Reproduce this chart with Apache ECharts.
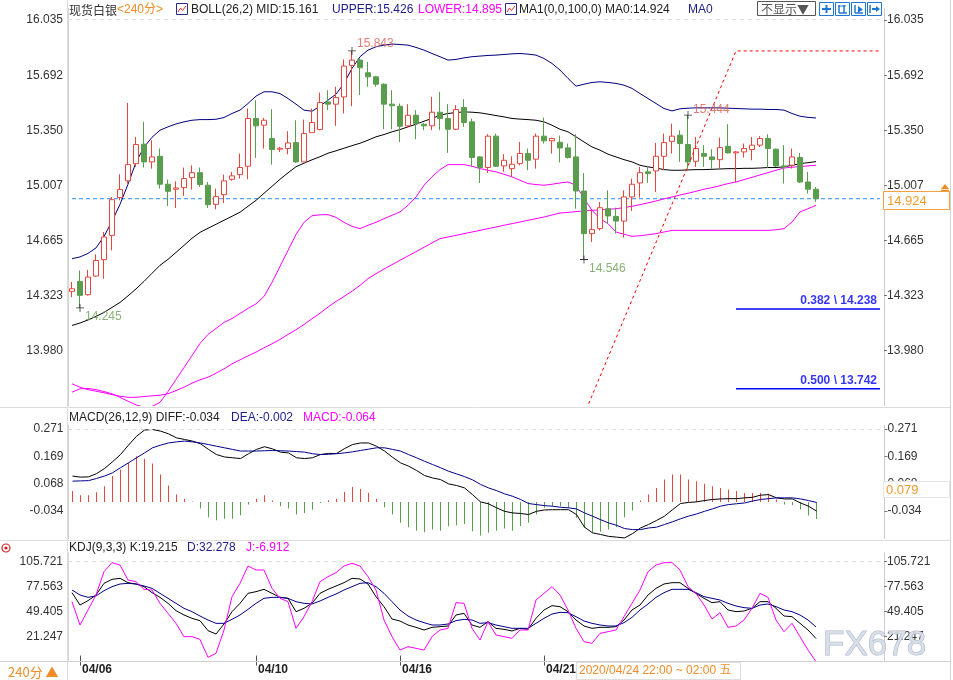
<!DOCTYPE html>
<html><head><meta charset="utf-8">
<script src="https://cdn.jsdelivr.net/npm/echarts@6/dist/echarts.min.js"></script>
<style>html,body{margin:0;padding:0;background:#fff;}#c{width:953px;height:680px;}</style>
</head><body><div id="c"></div>
<script>
// ---------- data ----------
const opens=[14.348,14.410,14.327,14.443,14.545,14.696,14.931,15.035,15.142,15.263,15.153,15.188,15.014,14.983,14.993,15.055,15.086,15.008,14.889,14.949,15.045,15.074,15.126,15.423,15.381,15.298,15.232,15.236,15.273,15.153,15.335,15.354,15.526,15.512,15.557,15.753,15.786,15.707,15.682,15.636,15.512,15.499,15.377,15.443,15.387,15.377,15.462,15.423,15.356,15.491,15.402,15.184,15.118,15.313,15.128,15.111,15.142,15.205,15.170,15.313,15.284,15.275,15.240,15.184,14.972,14.707,14.738,14.862,14.814,14.785,14.935,15.022,15.091,15.097,15.188,15.281,15.319,15.261,15.157,15.205,15.184,15.167,15.250,15.209,15.215,15.230,15.257,15.298,15.232,15.128,15.132,15.180,15.028,14.983];
const closes=[14.364,14.323,14.437,14.540,14.686,14.918,14.981,15.136,15.261,15.153,15.184,15.014,14.970,14.991,15.049,15.086,15.012,14.887,14.937,15.035,15.066,15.118,15.423,15.377,15.412,15.230,15.238,15.271,15.153,15.329,15.398,15.522,15.512,15.553,15.749,15.786,15.738,15.682,15.636,15.512,15.502,15.375,15.443,15.392,15.377,15.462,15.423,15.356,15.479,15.398,15.180,15.118,15.313,15.126,15.163,15.138,15.205,15.163,15.313,15.284,15.298,15.240,15.180,14.972,14.707,14.732,14.868,14.817,14.785,14.935,15.014,15.086,15.080,15.188,15.273,15.313,15.267,15.153,15.236,15.188,15.167,15.242,15.209,15.215,15.236,15.257,15.298,15.236,15.128,15.122,15.184,15.028,14.983,14.924];
const lows=[14.312,14.245,14.322,14.437,14.426,14.603,14.914,15.018,15.122,15.118,15.111,14.987,14.879,14.866,14.941,14.981,14.997,14.866,14.858,14.898,15.035,15.049,15.045,15.178,15.236,15.136,15.215,15.200,15.147,15.153,15.335,15.350,15.475,15.377,15.454,15.499,15.568,15.620,15.620,15.356,15.356,15.277,15.364,15.294,15.350,15.350,15.350,15.209,15.350,15.371,15.122,15.022,15.084,15.122,15.091,15.064,15.132,15.101,15.111,15.267,15.205,15.149,15.174,14.862,14.546,14.655,14.727,14.769,14.707,14.682,14.848,14.931,15.022,14.966,15.101,15.205,15.153,15.111,15.122,15.122,15.111,15.111,15.205,15.028,15.180,15.163,15.246,15.116,15.122,15.018,15.111,15.022,14.956,14.904];
const highs=[14.406,14.478,14.482,14.578,14.717,14.935,15.076,15.520,15.308,15.402,15.288,15.236,15.043,15.032,15.118,15.132,15.118,15.028,14.987,15.074,15.091,15.205,15.485,15.537,15.427,15.481,15.246,15.344,15.412,15.416,15.485,15.584,15.599,15.620,15.790,15.843,15.796,15.775,15.688,15.641,15.599,15.516,15.512,15.475,15.396,15.558,15.589,15.512,15.506,15.543,15.423,15.188,15.325,15.329,15.201,15.188,15.277,15.236,15.329,15.429,15.304,15.317,15.267,15.325,15.084,14.852,14.904,14.976,14.868,14.976,15.049,15.122,15.126,15.271,15.329,15.391,15.350,15.444,15.308,15.257,15.232,15.304,15.387,15.221,15.267,15.308,15.313,15.325,15.236,15.257,15.236,15.209,15.091,14.997];
const bollUpper=[14.551,14.562,14.584,14.618,14.690,14.783,14.889,15.014,15.151,15.244,15.306,15.350,15.371,15.389,15.402,15.412,15.416,15.416,15.418,15.429,15.454,15.475,15.516,15.562,15.589,15.589,15.578,15.547,15.512,15.475,15.468,15.500,15.537,15.574,15.641,15.734,15.807,15.848,15.869,15.879,15.886,15.883,15.879,15.865,15.848,15.827,15.807,15.786,15.790,15.800,15.807,15.811,15.815,15.817,15.821,15.825,15.827,15.823,15.817,15.796,15.765,15.724,15.672,15.624,15.636,15.647,15.651,15.647,15.641,15.630,15.610,15.578,15.547,15.516,15.485,15.470,15.483,15.487,15.489,15.489,15.489,15.489,15.487,15.485,15.483,15.481,15.481,15.479,15.479,15.475,15.454,15.437,15.430,15.426];
const bollMid=[14.136,14.151,14.170,14.192,14.217,14.248,14.279,14.320,14.363,14.410,14.460,14.510,14.547,14.590,14.634,14.678,14.715,14.740,14.765,14.790,14.815,14.840,14.877,14.914,14.958,15.001,15.045,15.085,15.123,15.145,15.166,15.185,15.207,15.222,15.238,15.254,15.269,15.288,15.309,15.323,15.340,15.354,15.371,15.387,15.406,15.423,15.443,15.454,15.460,15.464,15.462,15.458,15.450,15.441,15.433,15.423,15.419,15.416,15.412,15.402,15.381,15.356,15.340,15.309,15.277,15.246,15.226,15.201,15.184,15.167,15.153,15.132,15.122,15.115,15.105,15.101,15.101,15.103,15.105,15.105,15.107,15.109,15.111,15.111,15.113,15.113,15.115,15.118,15.118,15.122,15.132,15.142,15.148,15.155];
const bollLower=[13.721,13.742,13.744,13.737,13.725,13.711,13.689,13.665,13.642,13.627,13.632,13.658,13.725,13.800,13.874,13.949,14.024,14.080,14.117,14.155,14.179,14.211,14.242,14.270,14.316,14.404,14.503,14.603,14.702,14.777,14.818,14.824,14.825,14.808,14.777,14.752,14.738,14.759,14.777,14.800,14.821,14.842,14.883,14.935,15.008,15.060,15.105,15.136,15.136,15.136,15.126,15.111,15.101,15.091,15.076,15.060,15.039,15.018,15.012,15.008,15.014,15.022,15.028,15.008,14.925,14.852,14.800,14.769,14.717,14.703,14.690,14.694,14.700,14.707,14.717,14.727,14.727,14.727,14.727,14.727,14.727,14.727,14.727,14.727,14.727,14.727,14.727,14.727,14.731,14.738,14.779,14.842,14.862,14.883];
const maLong=[13.773,13.752,13.737,13.727,13.717,13.706,13.696,13.689,13.689,13.694,13.698,13.702,13.711,13.731,13.752,13.777,13.798,13.814,13.839,13.866,13.897,13.922,13.947,13.970,13.997,14.022,14.049,14.080,14.109,14.142,14.178,14.212,14.250,14.285,14.316,14.349,14.385,14.427,14.458,14.487,14.514,14.541,14.568,14.595,14.622,14.649,14.676,14.686,14.696,14.707,14.717,14.727,14.738,14.748,14.759,14.769,14.779,14.790,14.800,14.810,14.823,14.835,14.839,14.844,14.848,14.852,14.854,14.858,14.862,14.869,14.877,14.887,14.898,14.910,14.923,14.935,14.947,14.958,14.970,14.983,14.993,15.005,15.018,15.028,15.043,15.057,15.072,15.086,15.101,15.115,15.120,15.124,15.128,15.132];
const macdHist=[0.040,0.025,0.025,0.036,0.058,0.096,0.120,0.145,0.170,0.160,0.143,0.102,0.061,0.027,0.012,0.001,-0.025,-0.057,-0.068,-0.063,-0.063,-0.050,-0.010,0.012,0.025,0.005,-0.016,-0.025,-0.047,-0.041,-0.029,-0.004,0.006,0.012,0.037,0.055,0.048,0.034,0.012,-0.020,-0.047,-0.078,-0.094,-0.107,-0.113,-0.103,-0.107,-0.091,-0.087,-0.082,-0.109,-0.125,-0.115,-0.107,-0.099,-0.107,-0.090,-0.078,-0.047,-0.022,-0.016,-0.016,-0.022,-0.059,-0.097,-0.115,-0.111,-0.103,-0.094,-0.057,-0.032,0.005,0.027,0.052,0.083,0.102,0.102,0.083,0.077,0.067,0.058,0.052,0.046,0.040,0.033,0.033,0.033,0.030,0.009,-0.010,-0.012,-0.028,-0.051,-0.064];
const macdDiff=[0.096,0.092,0.093,0.105,0.124,0.149,0.176,0.211,0.244,0.267,0.269,0.263,0.253,0.238,0.232,0.226,0.216,0.195,0.176,0.167,0.164,0.161,0.179,0.195,0.205,0.197,0.185,0.182,0.164,0.161,0.164,0.176,0.180,0.180,0.198,0.213,0.219,0.219,0.207,0.189,0.166,0.145,0.133,0.117,0.098,0.089,0.083,0.067,0.061,0.052,0.027,0.000,-0.007,-0.022,-0.035,-0.041,-0.043,-0.047,-0.035,-0.030,-0.029,-0.029,-0.029,-0.047,-0.094,-0.115,-0.121,-0.128,-0.131,-0.134,-0.118,-0.097,-0.084,-0.069,-0.053,-0.029,-0.006,-0.002,0.000,0.005,0.009,0.011,0.012,0.012,0.015,0.017,0.025,0.027,0.015,0.011,0.011,-0.004,-0.016,-0.034];
const macdDea=[0.077,0.078,0.079,0.087,0.096,0.108,0.127,0.145,0.164,0.182,0.201,0.211,0.219,0.223,0.226,0.223,0.219,0.213,0.207,0.201,0.195,0.189,0.189,0.189,0.190,0.191,0.190,0.189,0.187,0.185,0.179,0.176,0.177,0.179,0.182,0.186,0.191,0.196,0.201,0.201,0.195,0.189,0.176,0.164,0.151,0.139,0.127,0.114,0.104,0.094,0.082,0.065,0.052,0.042,0.030,0.021,0.009,-0.006,-0.010,-0.014,-0.016,-0.020,-0.022,-0.026,-0.041,-0.053,-0.066,-0.078,-0.087,-0.099,-0.103,-0.103,-0.097,-0.094,-0.084,-0.074,-0.063,-0.053,-0.045,-0.035,-0.026,-0.016,-0.010,-0.007,-0.004,0.003,0.009,0.012,0.015,0.015,0.015,0.011,0.005,-0.002];
const kdjK=[70.84,56.95,61.83,68.21,81.35,85.86,86.98,82.10,80.60,77.60,70.84,65.58,58.83,50.57,45.69,41.93,39.30,28.04,24.29,35.55,49.44,58.83,70.09,71.97,74.59,70.09,65.58,64.46,49.44,53.19,58.83,70.09,74.59,78.35,82.10,86.98,86.23,80.60,66.34,55.07,41.18,38.93,34.42,31.79,28.79,31.79,32.55,33.30,45.69,47.56,34.42,31.79,38.18,30.67,29.54,27.66,30.67,29.54,41.93,51.32,56.20,55.07,49.44,40.05,33.30,30.67,31.79,31.79,32.55,40.05,51.32,56.95,68.21,75.72,80.60,82.10,82.10,75.72,70.09,64.46,59.58,60.70,51.32,49.44,50.19,53.19,60.70,60.70,53.19,44.56,43.81,36.30,28.79,19.22];
const kdjD=[73.84,68.21,65.58,67.09,73.09,77.60,80.60,81.35,80.60,78.35,75.72,70.09,64.46,58.83,53.19,49.44,44.56,40.05,36.30,36.30,40.81,45.69,52.07,58.83,64.46,65.58,65.58,64.46,60.70,58.83,58.08,61.45,65.58,69.34,73.84,77.60,81.35,82.10,77.60,70.09,60.70,51.32,44.56,40.05,37.05,34.42,34.42,35.55,39.30,40.81,40.05,36.30,37.05,34.42,32.55,30.67,30.67,30.67,36.30,41.93,46.81,48.69,48.31,43.81,38.93,36.30,34.42,33.30,33.30,37.05,43.06,51.32,58.08,65.58,70.84,74.59,74.59,74.59,70.84,66.34,64.46,62.58,58.83,55.82,53.95,53.19,56.95,58.08,55.07,51.32,49.44,45.69,40.05,32.28];
const kdjJ=[60.70,34.42,51.32,68.21,94.49,104.63,102.00,85.11,83.23,74.59,73.84,58.83,47.56,36.30,21.28,21.28,18.28,-1.99,2.51,28.79,66.34,81.35,100.88,96.37,96.37,75.72,64.46,60.70,30.67,43.81,60.70,83.23,88.86,93.37,100.88,103.88,100.88,88.86,73.84,40.05,21.28,6.26,10.02,8.14,6.26,21.28,28.79,30.67,59.58,58.83,30.67,17.53,38.18,23.16,21.28,19.41,28.79,28.79,62.58,70.09,77.60,68.21,51.32,30.67,15.65,13.77,25.04,26.91,28.79,43.81,58.83,73.84,94.49,102.00,104.63,104.63,96.37,77.60,70.09,56.95,41.18,48.31,31.79,33.30,40.05,53.19,70.09,65.58,40.05,26.91,36.30,21.28,6.26,-6.91];

const slotCount=102;
const dateTickIdx=[1,23,41,59];
const dateTickLabels=['04/06','04/10','04/16','04/21'];
const priceTicks=[13.980,14.323,14.665,15.007,15.350,15.692,16.035];
const macdTicks=[-0.034,0.068,0.169,0.271];
const kdjTicks=[21.247,49.405,77.563,105.721];
const lastPrice=14.924;
const extremeIdx=[35,77,64,1];
const extremeVal=[15.843,15.444,14.546,14.245];
const fibLineX=[64,83,101];
const fibLineY=[13.58,15.843,15.843];
const fibLevels=[14.238,13.742];
const fibRatios=['0.382','0.500'];
const fibFrom=83, fibTo=101;

// ---------- chart ----------
const FONT="'Liberation Sans','Noto Sans CJK SC',Arial,sans-serif";
const RED='#e5473d', GREEN='#5b9d4e', NAVY='#00008b', MAG='#ff00ff', ORANGE='#f08c28';
const categories=Array.from({length:slotCount},(_,i)=>String(i));
const candleData=opens.map((o,i)=>[o,closes[i],lows[i],highs[i]]);

function yAxes(grid,min,max,ticks){
  const common={type:'value',gridIndex:grid,min:min,max:max,splitLine:{show:false}};
  return [
    Object.assign({},common,{position:'left',
      axisLine:{show:true,lineStyle:{color:'#cfcfcf',type:'dotted'}},axisTick:{show:false},
      axisLabel:{customValues:ticks,formatter:v=>v.toFixed(3),color:'#333',fontSize:12,fontFamily:FONT,margin:5}}),
    Object.assign({},common,{position:'right',
      axisLine:{show:true,lineStyle:{color:'#c4c4c4',type:'dotted'}},
      axisTick:{show:true,customValues:ticks,length:3,lineStyle:{color:'#777'}},
      axisLabel:{customValues:ticks,formatter:v=>v.toFixed(3),color:'#333',fontSize:12,fontFamily:FONT,margin:3}})
  ];
}
const isDate=(i)=>dateTickIdx.indexOf(i)>=0;

function line(name,data,color,xi,yi){
  return {name:name,type:'line',data:data,xAxisIndex:xi,yAxisIndex:yi,showSymbol:false,symbol:'none',
    lineStyle:{color:color,width:1},itemStyle:{color:color},silent:true,z:3};
}
function hLine(name,value,color,dash,xi,yi,z){
  return {name:name,type:'line',data:[],xAxisIndex:xi,yAxisIndex:yi,silent:true,z:z||2,
    itemStyle:{color:color},lineStyle:{color:color},
    markLine:{silent:true,symbol:['none','none'],label:{show:false},animation:false,
      itemStyle:{color:color},lineStyle:{color:color,type:dash,width:1,opacity:1},
      data:[{yAxis:value,lineStyle:{color:color,type:dash,width:1}}]}};
}

const grids=[
  {left:68,width:816,top:8,height:397.6},
  {left:68.5,width:816,top:424.8,height:113.6},
  {left:68,width:816,top:553,height:108.7}
];
const xAxes=[0,1,2].map(g=>({type:'category',gridIndex:g,data:categories,boundaryGap:true,
  show:g===2,axisLine:{show:false},
  axisTick:{show:g===2,alignWithLabel:true,interval:(i)=>isDate(i),length:10,lineStyle:{color:'#555'}},
  axisLabel:{show:g===2,interval:(i)=>isDate(i),formatter:(v,i)=>dateTickLabels[dateTickIdx.indexOf(Number(v))]||'',
    color:'#222',fontWeight:'bold',fontSize:12,fontFamily:FONT,margin:2,align:'left',padding:[0,0,0,2]}}));

const yA=[].concat(yAxes(0,13.6375,16.11,priceTicks),yAxes(1,-0.1357,0.2865,macdTicks),yAxes(2,-6.911,115.52,kdjTicks));

const plus='path://M0,4.5L10,4.5L10,5.5L0,5.5Z M4.5,0L5.5,0L5.5,10L4.5,10Z';
const extremeLabels=[
  {color:'#e05a4f',offset:[0,-7]},{color:'#e05a4f',offset:[0,-5]},
  {color:'#6a9e55',offset:[0,9]},{color:'#6a9e55',offset:[0,9]}];

const series=[
  hLine('grid0',16.035,'#dedede',[4,4],0,0,1),
  {type:'line',name:'price',data:[[0,lastPrice],[slotCount-1,lastPrice]],xAxisIndex:0,yAxisIndex:0,showSymbol:false,symbol:'none',
   lineStyle:{color:'#2a8ef5',width:1,type:[4,3]},itemStyle:{color:'#2a8ef5'},silent:true,z:2},
  {type:'candlestick',name:'k',xAxisIndex:0,yAxisIndex:0,data:candleData,barWidth:6,z:4,
   itemStyle:{color:'#ffffff',color0:GREEN,borderColor:RED,borderColor0:GREEN,borderWidth:1}},
  line('upper',bollUpper,'#000080',0,0),
  line('mid',bollMid,'#000000',0,0),
  line('lower',bollLower,MAG,0,0),
  line('ma',maLong,MAG,0,0),
  {type:'line',name:'fib',data:fibLineX.map((x,i)=>[x,fibLineY[i]]),xAxisIndex:0,yAxisIndex:0,showSymbol:false,symbol:'none',
   lineStyle:{color:'#ff0000',width:1,type:[3,3]},silent:true,z:5},
  ...fibLevels.map((v,k)=>({type:'line',name:'fibL'+k,data:[[fibFrom,v],[fibTo,v]],xAxisIndex:0,yAxisIndex:0,
    showSymbol:false,symbol:'none',lineStyle:{color:'#0000ff',width:1.5},silent:true,z:5})),
  {type:'scatter',name:'fibLabels',xAxisIndex:0,yAxisIndex:0,symbolSize:0,silent:true,z:6,
   data:fibLevels.map((v,k)=>({value:[fibTo,v],label:{formatter:fibRatios[k]+' \\ '+v.toFixed(3)}})),
   label:{show:true,position:'left',distance:3,offset:[0,-8],color:'#0000ff',fontWeight:'bold',fontSize:12,fontFamily:FONT}},
  {type:'scatter',name:'extremes',xAxisIndex:0,yAxisIndex:0,symbol:plus,symbolSize:8,silent:true,z:6,
   itemStyle:{color:'#000'},
   data:extremeIdx.map((x,k)=>({value:[x,extremeVal[k]],label:{color:extremeLabels[k].color,offset:extremeLabels[k].offset}})),
   label:{show:true,position:'right',distance:1,formatter:p=>p.value[1].toFixed(3),fontSize:12,fontFamily:FONT}},
  hLine('grid1',0.271,'#dedede',[4,4],1,2,1),
  {type:'bar',name:'hist',xAxisIndex:1,yAxisIndex:2,barWidth:1,silent:true,
   data:macdHist.map(v=>({value:v,itemStyle:{color:v>=0?RED:GREEN}}))},
  line('diff',macdDiff,'#000000',1,2),
  line('dea',macdDea,NAVY,1,2),
  hLine('grid2',105.721,'#dedede',[4,4],2,4,1),
  line('k',kdjK,'#000000',2,4),
  line('d',kdjD,NAVY,2,4),
  line('j',kdjJ,MAG,2,4)
];

function T(text,x,y,fill,opt){
  return {type:'text',z:50,silent:true,
    style:{text:text,x:x,y:y,fill:fill,font:(opt&&opt.font)||('12px '+FONT),align:'left',verticalAlign:'middle',
      textAlign:'left',textVerticalAlign:'middle'}};
}
function L(x1,y1,x2,y2,color,w,z){return {type:'line',z:z||40,silent:true,shape:{x1:x1,y1:y1,x2:x2,y2:y2},style:{stroke:color,lineWidth:w||1}};}
function R(x,y,w,h,stroke,fill,z){return {type:'rect',z:z||45,silent:true,shape:{x:x,y:y,width:w,height:h},style:{stroke:stroke,fill:fill||'#fff',lineWidth:1}};}
function icon(x,y){return [R(x+0.5,y+0.5,11,11,'#2a2a8a','#fff',46),
  {type:'polyline',z:47,silent:true,shape:{points:[[x+2,y+9],[x+4.5,y+5],[x+6.5,y+7.5],[x+10,y+3]]},style:{stroke:'#e03030',fill:null,lineWidth:1}}];}
const B='#1e78d2';

const graphics=[
  L(67.5,0,67.5,680,'#dcdcdc'), L(950.5,0,950.5,680,'#d4d4d4'),
  L(0,407.5,951,407.5,'#dcdcdc'), L(0,540.5,951,540.5,'#dcdcdc'), L(0,661.5,951,661.5,'#d0d0d0'),
  T('现货白银',69,10,'#333',{font:'12px "Noto Sans CJK SC",sans-serif'}),
  T('<240分>',117,10,ORANGE,{font:'12px '+FONT}),
  ...icon(176,3),
  T('BOLL(26,2) MID:15.161',191,10,'#222'),
  T('UPPER:15.426',332,10,'#1c1c8c'),
  T('LOWER:14.895',418,10,MAG),
  ...icon(505,3),
  T('MA1(0,0,100,0) MA0:14.924',519,10,'#222'),
  T('MA0',688,10,'#1c1c8c'),
  R(757.5,1.5,58,14,'#555','#fff'),
  T('不显示▼',761,9,'#555',{font:'12px "Noto Sans CJK SC",sans-serif'}),
  ...[819,835,851,867].map(x=>R(x+0.5,2.5,14,13,B,'#fff')),
  L(822,9,831,9,B,2,48),L(826.5,5,826.5,13,B,2,48),
  L(839,5,839,13,B,1.5,48),L(844,5,844,13,B,1.5,48),L(839,13,847,13,B,1.5,48),L(838,6,846,6,B,1,48),
  L(855,5,855,13,B,1.5,48),L(855,13,863,13,B,1.5,48),
  {type:'polygon',z:48,silent:true,shape:{points:[[858,6],[863,9.5],[858,13]]},style:{fill:B}},
  L(870,5,870,13,B,1.5,48),L(872,9,878,9,B,2,48),
  {type:'polygon',z:48,silent:true,shape:{points:[[876,6],[880,9],[876,12]]},style:{fill:B}},
  T('MACD(26,12,9) DIFF:-0.034',69,418,'#222'),
  T('DEA:-0.002',231,418,'#1c1c8c'),
  T('MACD:-0.064',303,418,MAG),
  T('KDJ(9,3,3) K:19.215',69,548,'#222'),
  T('D:32.278',187,548,'#1c1c8c'),
  T('J:-6.912',246,548,MAG),
  {type:'circle',z:47,silent:true,shape:{cx:6,cy:548,r:4},style:{stroke:'#e02020',fill:'#fff',lineWidth:1.2}},
  {type:'circle',z:48,silent:true,shape:{cx:6,cy:548,r:1.6},style:{fill:'#e02020'}},
  T('240分 ▲',8,672,ORANGE,{font:'13px "Noto Sans CJK SC",sans-serif'}),
  R(576.5,662.5,164,17,'#dddddd','#fff'),
  T('2020/04/24 22:00 ~ 02:00 五',579,671,ORANGE,{font:'12px '+FONT}),
  R(883.5,191.5,66,18,'#f5a142','#fff'),
  T('14.924',887,201,'#f39a2b',{font:'13px '+FONT}),
  {type:'polygon',z:47,silent:true,shape:{points:[[941,189],[945,184],[949,189]]},style:{fill:'#f08c28'}},
  L(941,190.5,949,190.5,'#f08c28',1.5,47),
  R(883.5,481.5,66,16,'#e6e6e6','#fff'),
  T('0.079',886,490,'#f39a2b',{font:'13px '+FONT}),
  {type:'text',z:60,silent:true,style:{text:'FX678',x:823,y:645,fill:'rgba(214,221,231,0.9)',stroke:'#a9b6c8',lineWidth:1,
    font:'35px '+FONT,align:'left',verticalAlign:'middle',textAlign:'left',textVerticalAlign:'middle'}}
];

const chart=echarts.init(document.getElementById('c'),null,{renderer:'canvas'});
chart.setOption({animation:false,backgroundColor:'#fff',grid:grids,xAxis:xAxes,yAxis:yA,series:series,graphic:{elements:graphics}});
</script></body></html>
